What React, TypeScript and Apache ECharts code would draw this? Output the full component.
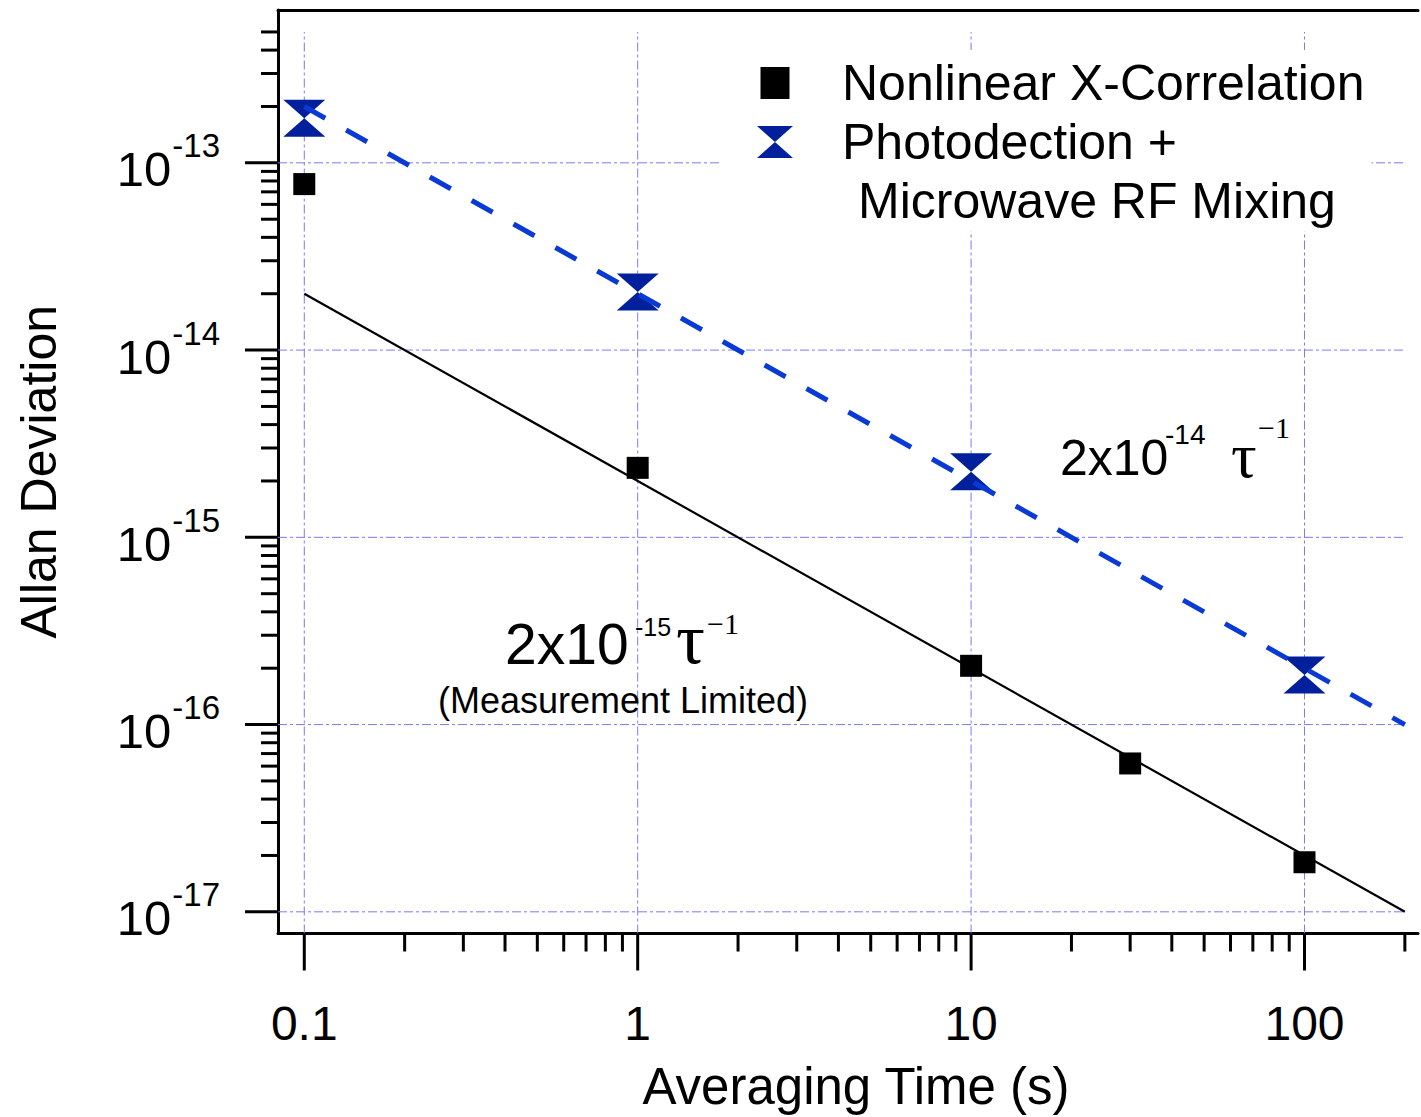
import React, { useEffect, useRef } from 'react';
import * as echarts from 'echarts';

// ---- axis ranges ----
const X_MIN = 0.0834;
const X_MAX = 219;
const Y_MIN = 7.66e-18;
const Y_MAX = 6.55e-13;

// ---- ticks & labels ----
const xMajorTicks = [0.1, 1, 10, 100];
const xTickLabels = ['0.1', '1', '10', '100'];
const xMinorTicks = [
  0.2, 0.3, 0.4, 0.5, 0.6, 0.7, 0.8, 0.9,
  2, 3, 4, 5, 6, 7, 8, 9,
  20, 30, 40, 50, 60, 70, 80, 90,
  200,
];
const yMajorTicks = [1e-17, 1e-16, 1e-15, 1e-14, 1e-13];
const yTickExponents = ['-17', '-16', '-15', '-14', '-13'];
const yMinorTicks = [
  2e-17, 3e-17, 4e-17, 5e-17, 6e-17, 7e-17, 8e-17, 9e-17,
  2e-16, 3e-16, 4e-16, 5e-16, 6e-16, 7e-16, 8e-16, 9e-16,
  2e-15, 3e-15, 4e-15, 5e-15, 6e-15, 7e-15, 8e-15, 9e-15,
  2e-14, 3e-14, 4e-14, 5e-14, 6e-14, 7e-14, 8e-14, 9e-14,
  2e-13, 3e-13, 4e-13, 5e-13,
];

// ---- grid lines ----
const gridXValues = [0.1, 1, 10, 100];
const gridYValues = [1e-17, 1e-16, 1e-15, 1e-14, 1e-13];
const GRID_X_END = 200;
const GRID_Y_END = 5e-13;

// ---- data ----
const XC_NAME = 'Nonlinear X-Correlation';
const RF_NAME = 'Photodection + Microwave RF Mixing';
const xcTau = [0.1, 1, 10, 30, 100];
const xcValues = [7.7e-14, 2.35e-15, 2.06e-16, 6.2e-17, 1.84e-17];
const rfTau = [0.1, 1, 10, 100];
const rfValues = [1.73e-13, 2.04e-14, 2.24e-15, 1.84e-16];

// ---- fit lines ----
const fitTau = [0.1, 200];
const fitXc = [2e-14, 1e-17];
const fitRf = [2e-13, 1e-16];

const FONT = '"Liberation Sans", Arial, Helvetica, sans-serif';
const SERIF = '"Liberation Serif", "Times New Roman", serif';
const GRID_COLOR = '#7a7af5';
const HOURGLASS_COLOR = '#02209c';
const DASH_COLOR = '#0a3ad6';

function tickIndex(v: number, ticks: number[]) {
  const lv = Math.log10(v);
  for (let i = 0; i < ticks.length; i++) {
    if (Math.abs(lv - Math.log10(ticks[i])) < 1e-6) return i;
  }
  return -1;
}

function tickSeries(values: number[], axis: 'x' | 'y', len: number): any {
  return {
    type: 'custom',
    silent: true,
    clip: false,
    z: 6,
    data: values.map((v) => (axis === 'x' ? [v, Y_MIN] : [X_MIN, v])),
    renderItem: (_p: any, api: any) => {
      const p = api.coord([api.value(0), api.value(1)]);
      const shape =
        axis === 'x'
          ? { x1: p[0], y1: p[1], x2: p[0], y2: p[1] + len }
          : { x1: p[0] - len, y1: p[1], x2: p[0], y2: p[1] };
      return { type: 'line', shape, style: { stroke: '#000', lineWidth: 3 } };
    },
  };
}

function gridSeries(values: number[], axis: 'x' | 'y'): any {
  return {
    type: 'custom',
    silent: true,
    clip: false,
    z: 1,
    data: values.map((v) => (axis === 'x' ? [v, Y_MIN] : [X_MIN, v])),
    renderItem: (_p: any, api: any) => {
      const v = axis === 'x' ? api.value(0) : api.value(1);
      const a = axis === 'x' ? api.coord([v, Y_MIN]) : api.coord([X_MIN, v]);
      const b = axis === 'x' ? api.coord([v, GRID_Y_END]) : api.coord([GRID_X_END, v]);
      return {
        type: 'line',
        shape: { x1: a[0], y1: a[1], x2: b[0], y2: b[1] },
        style: { stroke: GRID_COLOR, lineWidth: 1, lineDash: [9, 3, 3, 3] },
      };
    },
  };
}

function txt(text: string, x: number, y: number, size: number, family: string, align = 'left'): any {
  return {
    type: 'text',
    x,
    y,
    z: 20,
    silent: true,
    style: {
      text,
      fontSize: size,
      fontFamily: family,
      fill: '#000',
      align,
      textAlign: align,
      verticalAlign: 'middle',
      textVerticalAlign: 'middle',
    },
  };
}

export default function App() {
  const ref = useRef<HTMLDivElement>(null);

  useEffect(() => {
    if (!ref.current) return;
    const chart = echarts.init(ref.current, undefined, { renderer: 'svg' });

    const option: any = {
      animation: false,
      backgroundColor: '#fff',
      textStyle: { fontFamily: FONT, color: '#000' },
      grid: { left: 278, right: 0, top: 10, bottom: 181, containLabel: false },
      xAxis: [
        {
          type: 'log',
          min: X_MIN,
          max: X_MAX,
          position: 'bottom',
          axisLine: { show: true, lineStyle: { color: '#000', width: 3 } },
          axisTick: { show: false },
          minorTick: { show: false },
          splitLine: { show: false },
          axisLabel: {
            show: true,
            margin: 66,
            fontSize: 48,
            lineHeight: 48,
            color: '#000',
            fontFamily: FONT,
            hideOverlap: false,
            showMinLabel: true,
            showMaxLabel: true,
            formatter: (v: number) => {
              const i = tickIndex(v, xMajorTicks);
              return i < 0 ? '' : xTickLabels[i];
            },
          },
          name: 'Averaging Time (s)',
          nameLocation: 'middle',
          nameGap: 128,
          nameTextStyle: {
            fontSize: 51,
            lineHeight: 50,
            color: '#000',
            fontFamily: FONT,
            padding: [0, 0, 0, 16],
          },
        },
        {
          type: 'log',
          min: X_MIN,
          max: X_MAX,
          position: 'top',
          axisLine: { show: true, lineStyle: { color: '#000', width: 3 } },
          axisTick: { show: false },
          axisLabel: { show: false },
          splitLine: { show: false },
        },
      ],
      yAxis: {
        type: 'log',
        min: Y_MIN,
        max: Y_MAX,
        position: 'left',
        axisLine: { show: true, lineStyle: { color: '#000', width: 3 } },
        axisTick: { show: false },
        minorTick: { show: false },
        splitLine: { show: false },
        axisLabel: {
          show: true,
          margin: 58,
          hideOverlap: false,
          showMinLabel: true,
          showMaxLabel: true,
          formatter: (v: number) => {
            const i = tickIndex(v, yMajorTicks);
            return i < 0 ? '' : `{b|10}{s|${yTickExponents[i]}}`;
          },
          rich: {
            b: { fontSize: 49, lineHeight: 49, padding: [13, 0, 0, 0], color: '#000', fontFamily: FONT },
            s: { fontSize: 33, lineHeight: 33, padding: [0, 0, 34, 1], color: '#000', fontFamily: FONT },
          },
        },
        name: 'Allan Deviation',
        nameLocation: 'middle',
        nameGap: 214,
        nameTextStyle: { fontSize: 50, lineHeight: 50, color: '#000', fontFamily: FONT },
      },
      legend: {
        show: true,
        orient: 'vertical',
        left: 720,
        top: 50,
        padding: [3.5, 7, 60, 37],
        backgroundColor: '#fff',
        itemWidth: 36,
        itemHeight: 32,
        itemGap: 0,
        z: 10,
        selectedMode: false,
        symbolKeepAspect: true,
        textStyle: { fontSize: 50, lineHeight: 59, color: '#000', fontFamily: FONT, padding: [0, 0, 0, 44] },
        formatter: (name: string) => (name === RF_NAME ? 'Photodection +' : name),
        data: [
          { name: XC_NAME, icon: 'path://M0,0h29v32h-29z', itemStyle: { opacity: 1 } },
          { name: RF_NAME, icon: 'path://M0,0L36,0L0,32L36,32Z', itemStyle: { opacity: 1 } },
        ],
      },
      graphic: [
        txt('Microwave RF Mixing', 858, 201, 50, FONT),
        // 2x10^-15 tau^-1 (Measurement Limited)
        txt('2x10', 505, 644, 57, FONT),
        txt('-15', 635, 627, 25, FONT),
        txt('τ', 676, 639, 72, SERIF),
        txt('−1', 707, 623, 30, SERIF),
        txt('(Measurement Limited)', 623, 700, 36, FONT, 'center'),
        // 2x10^-14 tau^-1
        txt('2x10', 1060, 458, 50, FONT),
        txt('-14', 1165, 434, 28, FONT),
        txt('τ', 1231, 455, 64, SERIF),
        txt('−1', 1258, 427, 30, SERIF),
      ],
      series: [
        gridSeries(gridXValues, 'x'),
        gridSeries(gridYValues, 'y'),
        {
          name: RF_NAME,
          type: 'scatter',
          z: 2,
          silent: true,
          symbol: 'path://M0,0L42,0L0,37L42,37Z',
          symbolSize: [42, 37],
          itemStyle: { color: HOURGLASS_COLOR, opacity: 1 },
          data: rfTau.map((t, i) => [t, rfValues[i]]),
        },
        {
          name: 'fit RF',
          type: 'line',
          z: 3,
          silent: true,
          symbol: 'none',
          showSymbol: false,
          lineStyle: { color: DASH_COLOR, width: 5, type: [24, 24], cap: 'butt', opacity: 1 },
          data: fitTau.map((t, i) => [t, fitRf[i]]),
        },
        {
          name: 'fit X-Correlation',
          type: 'line',
          z: 4,
          silent: true,
          symbol: 'none',
          showSymbol: false,
          lineStyle: { color: '#000', width: 2.2, opacity: 1 },
          data: fitTau.map((t, i) => [t, fitXc[i]]),
        },
        {
          name: XC_NAME,
          type: 'scatter',
          z: 5,
          silent: true,
          symbol: 'rect',
          symbolSize: 22,
          itemStyle: { color: '#000', opacity: 1 },
          data: xcTau.map((t, i) => [t, xcValues[i]]),
        },
        tickSeries(xMajorTicks, 'x', 37),
        tickSeries(xMinorTicks, 'x', 18),
        tickSeries(yMajorTicks, 'y', 33),
        tickSeries(yMinorTicks, 'y', 17),
      ],
    };

    chart.setOption(option);
    return () => chart.dispose();
  }, []);

  return (
    <div
      ref={ref}
      style={{ position: 'fixed', left: 0, top: 0, width: 1421, height: 1117, background: '#fff' }}
    />
  );
}
